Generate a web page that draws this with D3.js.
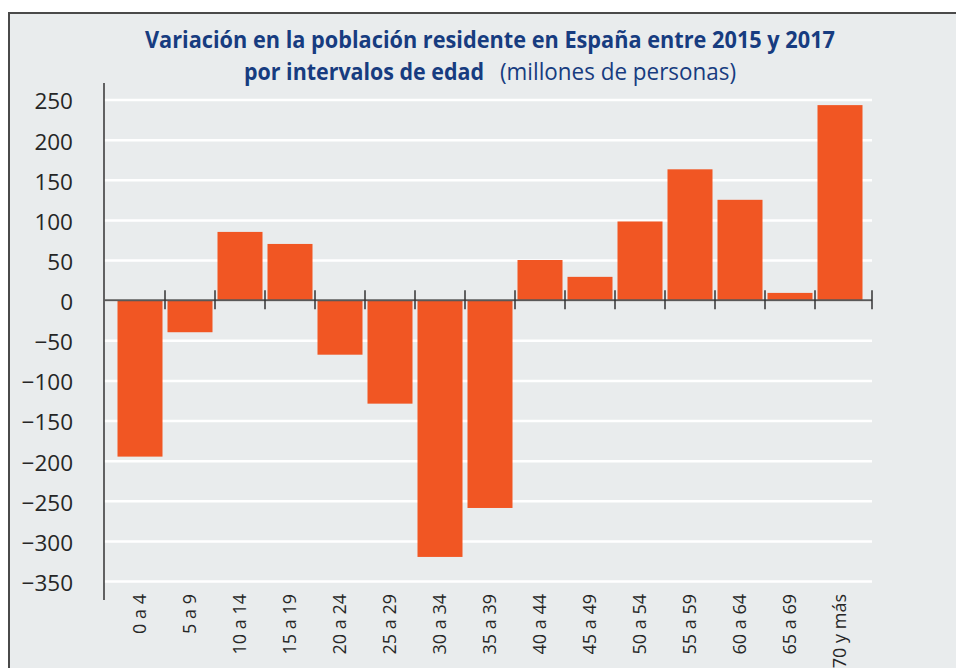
<!DOCTYPE html>
<html>
<head>
<meta charset="utf-8">
<script src="https://cdn.jsdelivr.net/npm/d3@7"></script>
<style>
  body { margin: 0; background: #fff; }
  text { font-family: "Open Sans", "Noto Sans", sans-serif; }
</style>
</head>
<body>
<svg id="chart" width="956" height="668"></svg>
<script>
// age groups and change 2015-2017
const categories = ["0 a 4", "5 a 9", "10 a 14", "15 a 19", "20 a 24", "25 a 29", "30 a 34",
  "35 a 39", "40 a 44", "45 a 49", "50 a 54", "55 a 59", "60 a 64", "65 a 69", "70 y más"];
const values = [-195, -40, 85, 70, -68, -129, -320, -259, 50, 29, 98, 163, 125, 9, 243];
const yTicks = [250, 200, 150, 100, 50, 0, -50, -100, -150, -200, -250, -300, -350];

const svg = d3.select("#chart");
const axisLeftX = 104, axisRightX = 872;

// panel
svg.append("rect")
  .attr("x", 9).attr("y", 13)
  .attr("width", 960).attr("height", 670)
  .attr("fill", "#e9eced")
  .attr("stroke", "#4a4a4a")
  .attr("stroke-width", 2);

const y = d3.scaleLinear().domain([-350, 250]).range([581, 99.5]);
const x = d3.scaleBand().domain(categories).range([115, 865])
  .paddingInner(0.1).paddingOuter(0.05);

// y axis + gridlines
const yAxis = svg.append("g")
  .attr("transform", `translate(${axisLeftX},0)`)
  .call(d3.axisLeft(y).tickValues(yTicks)
    .tickSizeInner(-(axisRightX - axisLeftX)).tickSizeOuter(0).tickPadding(31));
yAxis.select(".domain").remove();
yAxis.selectAll("line")
  .attr("stroke", "#ffffff")
  .attr("stroke-width", 2.5);
yAxis.selectAll("text")
  .attr("font-size", 22.5)
  .attr("dy", "0.42em")
  .attr("fill", "#262626");

// bars
svg.append("g").selectAll("rect")
  .data(values)
  .join("rect")
  .attr("x", (d, i) => x(categories[i]))
  .attr("width", x.bandwidth())
  .attr("y", d => y(Math.max(0, d)))
  .attr("height", d => Math.abs(y(d) - y(0)))
  .attr("fill", "#f15623");

// vertical axis line
svg.append("line")
  .attr("x1", axisLeftX).attr("x2", axisLeftX)
  .attr("y1", 83).attr("y2", 600)
  .attr("stroke", "#333")
  .attr("stroke-width", 1.5);

// zero line
svg.append("line")
  .attr("x1", axisLeftX).attr("x2", axisRightX)
  .attr("y1", y(0)).attr("y2", y(0))
  .attr("stroke", "#595959")
  .attr("stroke-width", 2);

// category tick marks
const gap = x.step() - x.bandwidth();
const tickXs = categories.slice(1).map(c => x(c) - gap / 2).concat([axisRightX]);
svg.append("g").selectAll("line")
  .data(tickXs)
  .join("line")
  .attr("x1", d => d).attr("x2", d => d)
  .attr("y1", y(0) - 10).attr("y2", y(0) + 9)
  .attr("stroke", "#333")
  .attr("stroke-width", 1.5);

// x labels
const xAxis = svg.append("g")
  .attr("transform", `translate(0,${y(0)})`)
  .call(d3.axisBottom(x).tickSize(0));
xAxis.select(".domain").remove();
xAxis.selectAll("text")
  .attr("transform", "rotate(-90)")
  .attr("x", -(594 - y(0)))
  .attr("y", 0)
  .attr("dy", "0.36em")
  .attr("text-anchor", "end")
  .attr("font-size", 18)
  .attr("fill", "#262626");

// title
const titleColor = "#173c80";
svg.append("text")
  .attr("x", 145).attr("y", 48)
  .attr("textLength", 690).attr("lengthAdjust", "spacingAndGlyphs")
  .attr("font-size", 23).attr("font-weight", "bold")
  .attr("fill", titleColor)
  .text("Variación en la población residente en España entre 2015 y 2017");
svg.append("text")
  .attr("x", 244).attr("y", 80)
  .attr("textLength", 240).attr("lengthAdjust", "spacingAndGlyphs")
  .attr("font-size", 23).attr("font-weight", "bold")
  .attr("fill", titleColor)
  .text("por intervalos de edad");
svg.append("text")
  .attr("x", 500).attr("y", 80)
  .attr("textLength", 236).attr("lengthAdjust", "spacingAndGlyphs")
  .attr("font-size", 23)
  .attr("fill", titleColor)
  .text("(millones de personas)");
</script>
</body>
</html>
